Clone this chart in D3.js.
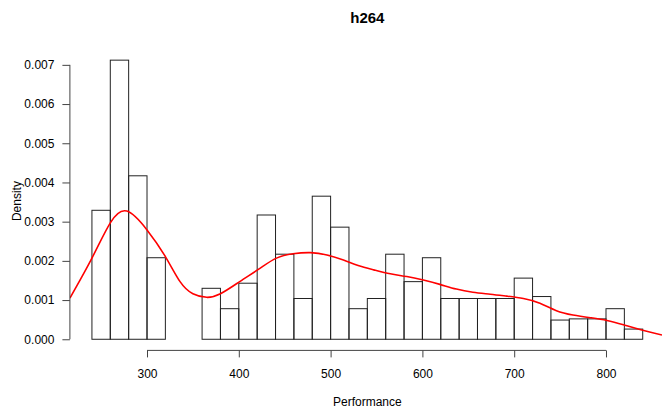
<!DOCTYPE html>
<html>
<head>
<meta charset="utf-8">
<script src="https://cdn.jsdelivr.net/npm/d3@7"></script>
<style>
  html, body { margin: 0; padding: 0; background: #fff; }
  svg { display: block; }
  text { font-family: "Liberation Sans", Arial, Helvetica, sans-serif; fill: #000; }
</style>
</head>
<body>
<svg id="chart" width="662" height="410"></svg>
<script>
// Histogram of h264 performance: bins of width 20 starting at these edges
const binStarts = [240, 260, 280, 300, 320, 340, 360, 380, 400, 420,
                   440, 460, 480, 500, 520, 540, 560, 580, 600, 620,
                   640, 660, 680, 700, 720, 740, 760, 780, 800, 820];
const binWidth = 20;
const binDensity = [0.00329, 0.00712, 0.00417, 0.00208, 0, 0, 0.00130, 0.00078, 0.00143, 0.00317,
                    0.00217, 0.00104, 0.00365, 0.00286, 0.00078, 0.00104, 0.00217, 0.00147, 0.00208, 0.00104,
                    0.00104, 0.00104, 0.00104, 0.00156, 0.00109, 0.00049, 0.00052, 0.00052, 0.00078, 0.00026];

// Kernel density estimate (sampled)
const kdeX = [216, 240, 260, 278, 300, 320, 336, 350, 365, 380,
              401, 423, 441, 459, 478, 496, 514, 530, 547, 565,
              583, 601, 619, 637, 655, 674, 692, 710, 728, 746,
              764, 783, 801, 819, 837, 861];
const kdeY = [0.00105, 0.00207, 0.00297, 0.00327, 0.00279, 0.00211, 0.00147, 0.00116, 0.00107, 0.00116,
              0.00147, 0.00181, 0.00207, 0.00218, 0.00221, 0.00215, 0.00202, 0.00188, 0.00177, 0.00167,
              0.00160, 0.00151, 0.00140, 0.00128, 0.00120, 0.00115, 0.00110, 0.00104, 0.00092, 0.00073,
              0.00062, 0.00055, 0.00048, 0.00037, 0.00025, 0.00011];

const xTicks = [300, 400, 500, 600, 700, 800];
const yTicks = [0, 0.001, 0.002, 0.003, 0.004, 0.005, 0.006, 0.007];

const titleText = "h264";
const xLabel = "Performance";
const yLabel = "Density";

const svg = d3.select("#chart");

// plot region
const plotL = 69.9, plotR = 664.75, plotT = 49.8, plotB = 350.4;

const x = d3.scaleLinear().domain([216, 864]).range([plotL, plotR]);
const y = d3.scaleLinear().domain([-0.000284, 0.007384]).range([plotB, plotT]);

svg.append("defs").append("clipPath").attr("id", "plotClip")
  .append("rect")
  .attr("x", plotL).attr("y", plotT)
  .attr("width", plotR - plotL).attr("height", plotB - plotT);

// bars
svg.append("g")
  .selectAll("rect")
  .data(binStarts.map((s, i) => ({ s, d: binDensity[i] })))
  .join("rect")
  .attr("x", d => x(d.s))
  .attr("y", d => y(d.d))
  .attr("width", d => x(d.s + binWidth) - x(d.s))
  .attr("height", d => y(0) - y(d.d))
  .attr("fill", "none")
  .attr("stroke", "#222")
  .attr("stroke-width", 1);

// density curve
const kde = kdeX.map((v, i) => [v, kdeY[i]]);
svg.append("path")
  .datum(kde)
  .attr("clip-path", "url(#plotClip)")
  .attr("fill", "none")
  .attr("stroke", "#ff0000")
  .attr("stroke-width", 1.6)
  .attr("d", d3.line().x(d => x(d[0])).y(d => y(d[1])).curve(d3.curveNatural));

// x axis
const xAxis = svg.append("g")
  .attr("transform", `translate(0,${plotB})`)
  .call(d3.axisBottom(x).tickValues(xTicks).tickSize(7).tickPadding(12)
        .tickFormat(d3.format("d")));
xAxis.select(".domain").remove();
xAxis.append("line")
  .attr("x1", x(xTicks[0])).attr("x2", x(xTicks[xTicks.length - 1]))
  .attr("stroke", "#444");
xAxis.selectAll(".tick line").attr("stroke", "#444");
xAxis.selectAll("text").attr("font-size", 12).style("font-family", "Liberation Sans, Arial, sans-serif").attr("fill", "#000");

// y axis
const yAxis = svg.append("g")
  .attr("transform", `translate(${plotL},0)`)
  .call(d3.axisLeft(y).tickValues(yTicks).tickSize(7.5).tickPadding(8)
        .tickFormat(d3.format(".3f")));
yAxis.select(".domain").remove();
yAxis.append("line")
  .attr("y1", y(yTicks[0])).attr("y2", y(yTicks[yTicks.length - 1]))
  .attr("stroke", "#444");
yAxis.selectAll(".tick line").attr("stroke", "#444");
yAxis.selectAll("text").attr("font-size", 12).style("font-family", "Liberation Sans, Arial, sans-serif").attr("fill", "#000");

// title and axis labels
svg.append("text")
  .attr("x", (plotL + plotR) / 2).attr("y", 23)
  .attr("text-anchor", "middle")
  .attr("font-size", 15).attr("font-weight", "bold")
  .text(titleText);

svg.append("text")
  .attr("x", (plotL + plotR) / 2).attr("y", 406)
  .attr("text-anchor", "middle")
  .attr("font-size", 12)
  .text(xLabel);

svg.append("text")
  .attr("transform", `translate(21,${(plotT + plotB) / 2 + 1}) rotate(-90)`)
  .attr("text-anchor", "middle")
  .attr("font-size", 12)
  .text(yLabel);
</script>
</body>
</html>
